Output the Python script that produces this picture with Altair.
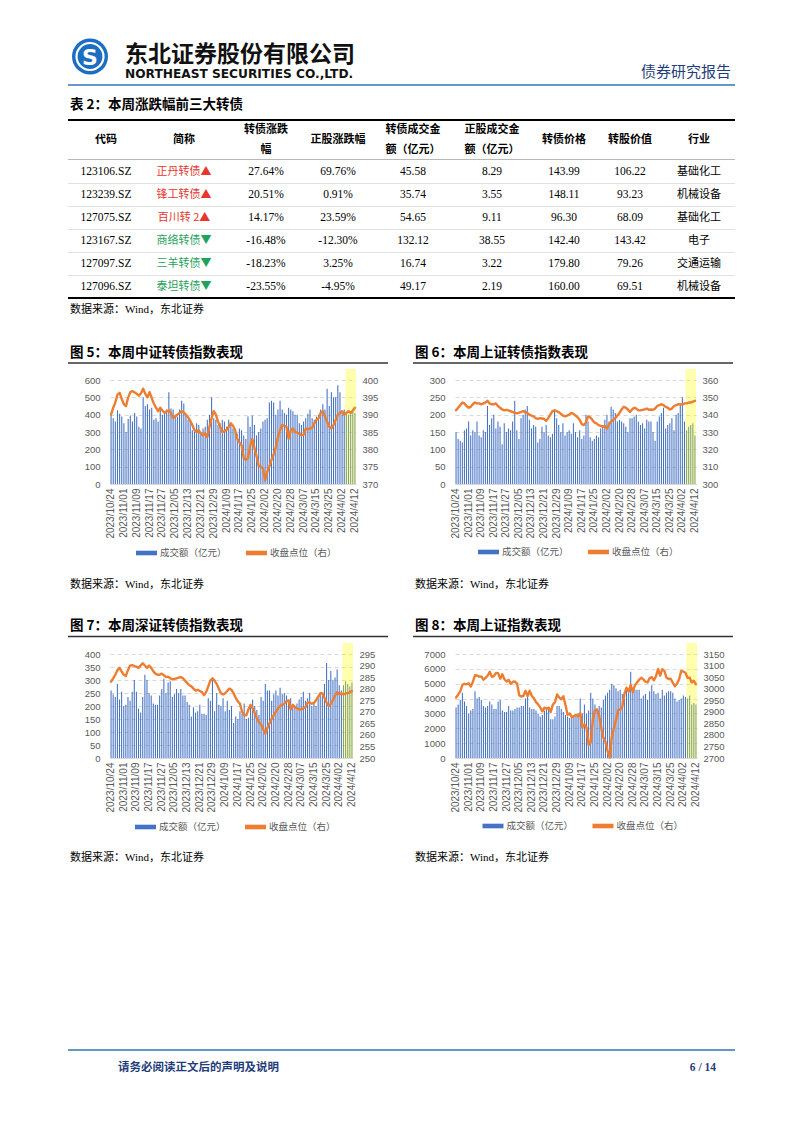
import altair as alt
import pandas as pd

# ---------------- data ----------------
HOLIDAYS = ["2024-01-01", "2024-02-09", "2024-02-12", "2024-02-13", "2024-02-14",
            "2024-02-15", "2024-02-16", "2024-04-04", "2024-04-05"]
_days = [d for d in pd.bdate_range("2023-10-24", "2024-04-12")
         if d.strftime("%Y-%m-%d") not in HOLIDAYS]
dates = [f"{d.year}/{d.month}/{d.day:02d}" for d in _days]
tick_dates = dates[::6]
week_dates = dates[-5:]

# 图5 中证转债
zz_amt = [400, 380, 360, 425, 405, 390, 350, 300, 375, 395, 360, 410, 390, 330, 320, 500, 450, 460, 430, 440,
          370, 380, 360, 430, 400, 410, 430, 530, 435, 430, 400, 390, 430, 480, 465, 400, 370, 360, 310, 300,
          350, 340, 300, 320, 330, 370, 400, 500, 380, 370, 340, 350, 370, 360, 330, 370, 350, 320, 300, 290,
          320, 310, 280, 260, 390, 330, 395, 340, 280, 300, 320, 360, 370, 380, 470, 480, 470, 400, 430, 480,
          430, 410, 400, 440, 430, 420, 400, 400, 350, 340, 360, 380, 405, 430, 380, 370, 390, 400, 430, 460,
          430, 550, 450, 530, 500, 500, 570, 530, 420, 430, 410, 400, 415, 420, 410]
zz_close = [390.0, 392.0, 393.5, 395.8, 396.3, 394.5, 393.0, 392.5, 395.0, 396.5, 396.8, 396.4, 396.0, 395.5,
            396.2, 397.5, 396.0, 395.0, 396.5, 394.8, 393.2, 392.0, 391.0, 392.0, 391.2, 390.5, 391.0, 391.2,
            390.4, 389.0, 389.5, 390.0, 390.5, 391.0, 390.6, 390.0, 389.2, 388.2, 387.0, 385.5, 385.0, 385.5,
            384.5, 384.0, 384.6, 383.5, 386.5, 389.0, 391.0, 390.0, 388.0, 386.5, 385.0, 385.3, 385.6, 386.5,
            387.5, 386.8, 385.5, 383.0, 382.0, 381.2, 377.5, 377.0, 377.5, 381.0, 383.0, 380.5, 378.0, 375.2,
            375.0, 374.5, 371.0, 373.5, 375.0, 377.0, 378.5, 380.5, 383.5, 385.5, 387.0, 386.8, 386.5, 383.0,
            385.5, 386.0, 385.0, 384.8, 384.5, 384.0, 384.2, 386.0, 385.8, 386.0, 386.2, 387.5, 388.5, 389.0,
            390.5, 391.0, 389.5, 388.0, 386.5, 386.0, 387.0, 388.5, 390.0, 390.5, 391.0, 390.0, 390.5, 391.0,
            390.5, 391.2, 392.0]

# 图6 上证转债
shcb_amt = [150, 130, 125, 120, 155, 160, 180, 140, 155, 150, 180, 140, 135, 155, 150, 225, 170, 190, 200, 160,
            180, 165, 115, 175, 150, 160, 155, 180, 240, 155, 130, 190, 200, 215, 225, 185, 160, 170, 165, 120,
            130, 165, 150, 170, 140, 135, 145, 215, 190, 170, 150, 175, 140, 150, 155, 145, 175, 150, 135, 155,
            130, 140, 200, 180, 135, 125, 130, 140, 135, 160, 170, 185, 200, 180, 223, 215, 205, 180, 185, 180,
            175, 165, 150, 190, 190, 195, 200, 180, 170, 175, 160, 185, 180, 180, 150, 125, 180, 195, 205, 220,
            160, 170, 175, 190, 155, 200, 205, 230, 250, 180, 155, 165, 170, 175, 140]
shcb_close = [342.5, 344.0, 345.5, 347.0, 346.5, 345.0, 344.0, 344.5, 346.0, 347.0, 346.5, 346.5, 346.0, 346.5,
              347.0, 348.0, 346.5, 346.0, 346.0, 346.5, 345.0, 344.0, 343.0, 342.5, 342.8, 342.5, 342.0, 341.5,
              341.0, 340.8, 341.2, 341.5, 342.0, 341.5, 341.0, 340.0, 339.5, 339.0, 338.0, 337.5, 338.0, 337.8,
              337.5, 336.5, 338.0, 340.0, 342.0, 342.5, 342.0, 341.5, 340.5, 339.5, 339.0, 339.5, 340.0, 341.0,
              340.5, 339.5, 338.5, 337.0, 334.5, 334.0, 335.5, 339.0, 338.5, 337.0, 335.5, 335.0, 334.0, 333.5,
              333.0, 333.5, 332.0, 334.5, 336.0, 337.0, 338.0, 339.5, 341.0, 343.0, 344.5, 344.0, 343.0, 341.5,
              343.0, 344.0, 343.5, 342.5, 342.5, 342.8, 343.0, 343.5, 342.8, 343.0, 342.8, 343.5, 345.0, 345.5,
              346.0, 345.5, 344.5, 344.0, 343.0, 343.5, 345.0, 345.5, 346.0, 346.0, 345.8, 346.5, 346.5, 347.0,
              347.0, 347.5, 348.0]

# 图7 深证转债
szcb_amt = [260, 245, 235, 285, 225, 255, 200, 205, 235, 220, 255, 300, 255, 190, 175, 235, 320, 300, 250, 240,
            210, 205, 205, 240, 265, 305, 250, 290, 295, 235, 245, 265, 250, 265, 240, 240, 215, 205, 160, 195,
            175, 180, 205, 170, 170, 165, 230, 220, 300, 180, 250, 205, 200, 230, 180, 220, 185, 200, 135, 160,
            150, 180, 170, 210, 150, 155, 195, 225, 200, 185, 165, 235, 220, 285, 260, 260, 220, 245, 260, 240,
            270, 245, 250, 240, 215, 230, 205, 200, 210, 225, 235, 255, 220, 230, 250, 200, 210, 200, 230, 250,
            240, 285, 365, 300, 335, 300, 310, 340, 280, 260, 280, 295, 285, 275, 290]
szcb_close = [283.0, 284.5, 286.0, 288.0, 289.0, 287.5, 286.0, 285.5, 288.0, 290.0, 290.2, 289.8, 289.5, 289.0,
              290.0, 291.0, 290.0, 289.0, 290.0, 289.0, 287.5, 286.5, 286.0, 286.0, 286.5, 285.8, 285.0, 285.2,
              284.5, 284.0, 284.2, 284.5, 284.8, 285.0, 284.5, 283.5, 282.5, 281.5, 281.0, 280.0, 279.2, 279.5,
              279.0, 278.5, 277.2, 278.5, 281.0, 283.5, 284.5, 283.5, 282.0, 280.0, 278.0, 277.5, 278.0, 279.0,
              280.0, 279.5, 278.0, 276.0, 274.5, 273.5, 270.0, 268.5, 268.5, 271.0, 273.0, 271.5, 269.5, 267.0,
              265.5, 264.5, 262.5, 260.5, 263.0, 265.0, 267.0, 268.5, 270.0, 271.5, 272.5, 273.0, 273.5, 274.5,
              275.0, 271.0, 273.0, 272.0, 271.5, 271.0, 271.0, 271.5, 272.0, 274.0, 274.0, 273.5, 273.8, 275.0,
              276.5, 278.0, 278.0, 276.0, 274.0, 272.5, 273.5, 275.0, 277.0, 278.5, 277.5, 278.0, 277.5, 278.0,
              278.0, 278.5, 279.0]

# 图8 上证指数
sh_amt = [3400, 3600, 3900, 4400, 3800, 3500, 3000, 3200, 3300, 4500, 4000, 4100, 3900, 3500, 3400, 3500, 3800,
          3600, 3300, 3300, 3800, 3900, 3200, 3100, 3100, 3500, 3200, 3200, 3300, 3400, 3400, 3500, 3500, 4000,
          4100, 3400, 3300, 3300, 3200, 3000, 2800, 2900, 3200, 3300, 3400, 2600, 2600, 2800, 3500, 3500, 3300,
          3100, 2900, 2800, 2700, 2800, 2900, 2900, 3000, 4000, 3000, 3600, 3000, 3200, 4400, 4000, 3600, 3300,
          3500, 3400, 3900, 4200, 4400, 4600, 5000, 4900, 4700, 4500, 4600, 4300, 4200, 4800, 4500, 5800, 4500,
          4600, 4600, 4600, 4000, 4200, 4300, 3900, 4500, 4900, 4500, 4300, 4400, 4000, 4600, 4200, 4400, 4500,
          4500, 4400, 4000, 3800, 3900, 4000, 4200, 4100, 4000, 4200, 3600, 3700, 3600]
sh_close = [2962, 2974, 2988, 3017, 3021, 3019, 3023, 3009, 3030, 3058, 3057, 3052, 3053, 3039, 3046, 3056, 3073,
            3051, 3054, 3068, 3067, 3043, 3062, 3041, 3031, 3038, 3021, 3030, 3031, 3022, 2972, 2966, 2969, 2991,
            2968, 2991, 2968, 2958, 2942, 2932, 2919, 2902, 2918, 2914, 2918, 2899, 2931, 2941, 2975, 2962, 2954,
            2967, 2929, 2887, 2893, 2877, 2881, 2886, 2881, 2894, 2833, 2845, 2832, 2756, 2770, 2866, 2906, 2910,
            2883, 2830, 2788, 2770, 2730, 2702, 2789, 2829, 2865, 2906, 2910, 2922, 2977, 3004, 2987, 3016, 2985,
            3015, 3027, 3039, 3047, 3040, 3030, 3027, 3046, 3050, 3036, 3054, 3085, 3056, 3084, 3077, 3048, 3042,
            3043, 3026, 3011, 3021, 3041, 3077, 3074, 3069, 3047, 3048, 3027, 3034, 3019]

# 表2
codes = ["123106.SZ", "123239.SZ", "127075.SZ", "123167.SZ", "127097.SZ", "127096.SZ"]
names = ["正丹转债", "锋工转债", "百川转 2", "商络转债", "三羊转债", "泰坦转债"]
direction = ["up", "up", "up", "down", "down", "down"]
cb_chg = [27.64, 20.51, 14.17, -16.48, -18.23, -23.55]
stk_chg = [69.76, 0.91, 23.59, -12.30, 3.25, -4.95]
cb_turnover = [45.58, 35.74, 54.65, 132.12, 16.74, 49.17]
stk_turnover = [8.29, 3.55, 9.11, 38.55, 3.22, 2.19]
cb_price = [143.99, 148.11, 96.30, 142.40, 179.80, 160.00]
conv_value = [106.22, 93.23, 68.09, 143.42, 79.26, 69.51]
industry = ["基础化工", "机械设备", "基础化工", "电子", "交通运输", "机械设备"]
table_headers = ["代码", "简称", "转债涨跌\n幅", "正股涨跌幅", "转债成交金\n额（亿元）",
                 "正股成交金\n额（亿元）", "转债价格", "转股价值", "行业"]

LEG_A = "成交额（亿元）"
LEG_B = "收盘点位（右）"
SOURCE = "数据来源：Wind，东北证券"

# ---------------- style ----------------
BLUE = "#4472C4"
ORANGE = "#ED7D31"
GRAY = "#595959"
NAVY = "#1F3D7A"
CJK = "Noto Sans CJK SC"
SANS = "Liberation Sans, Noto Sans CJK SC"
SERIF = "Liberation Serif, Noto Sans CJK SC"
SYMBOL = "M-1,-0.22H1V0.22H-1Z"
PAD_IN = 0.5
MINUS = "\u2212"

OX, OY = 110, 380  # page position of the first plot's origin


def vx(px):
    return alt.value(px - OX)


def vy(py):
    return alt.value(py - OY)


one = pd.DataFrame({"k": [0]})


def txt(s, px, py, size, color="#000000", weight="normal", font=CJK, align="left",
        baseline="middle"):
    return alt.Chart(one).mark_text(
        text=s, fontSize=size, color=color, fontWeight=weight, font=font,
        align=align, baseline=baseline
    ).encode(x=vx(px), y=vy(py))


def hrule(x1, x2, py, color, w):
    return alt.Chart(one).mark_rule(color=color, strokeWidth=w).encode(
        x=vx(x1), x2=vx(x2), y=vy(py))


def make_plot(amt, close, amt_dom, amt_ticks, cl_dom, cl_ticks, h, lx, ly):
    df = pd.DataFrame({"date": dates, "amt": amt, "close": close,
                       "s_amt": LEG_A, "s_close": LEG_B})
    xscale = alt.Scale(domain=dates, paddingInner=PAD_IN, paddingOuter=PAD_IN / 2)
    xaxis = alt.Axis(values=tick_dates, labelAngle=-90, labelFontSize=10, labelColor=GRAY,
                     labelFont=SANS, ticks=False, domainColor="#D9D9D9", labelPadding=4,
                     grid=False, title=None, labelOverlap=False)
    X = alt.X("date:N", scale=xscale, axis=xaxis)
    cscale = alt.Scale(domain=[LEG_A, LEG_B], range=[BLUE, ORANGE])
    leg = alt.Legend(orient="none", legendX=lx, legendY=ly, direction="horizontal", title=None,
                     symbolType=SYMBOL, symbolSize=441, symbolStrokeWidth=0, symbolOpacity=1,
                     labelFontSize=9.5, labelColor=GRAY, labelFont=CJK, labelOffset=3,
                     columnPadding=19, padding=0)
    bars = alt.Chart(df).mark_bar().encode(
        x=X,
        y=alt.Y("amt:Q", scale=alt.Scale(domain=amt_dom, nice=False),
                axis=alt.Axis(orient="left", values=amt_ticks, format="d", grid=True,
                              gridDash=[4, 3], gridColor="#D9D9D9", domain=False, ticks=False,
                              labelColor=GRAY, labelFontSize=9.5, labelFont=SANS,
                              labelPadding=10, title=None)),
        color=alt.Color("s_amt:N", scale=cscale, legend=leg),
    )
    band = alt.Chart(pd.DataFrame({"date": week_dates})).mark_bar(
        color="#FFFF00", opacity=0.33, width=alt.RelativeBandSize(1 / (1 - PAD_IN))
    ).encode(x=X, y=alt.value(-11), y2=alt.value(h))
    line = alt.Chart(df).mark_line(strokeWidth=2.4, strokeJoin="round", strokeCap="round").encode(
        x=X,
        y=alt.Y("close:Q", scale=alt.Scale(domain=cl_dom, zero=False, nice=False),
                axis=alt.Axis(orient="right", values=cl_ticks, format="d", grid=False,
                              domain=False, ticks=False, labelColor=GRAY, labelFontSize=9.5,
                              labelFont=SANS, labelPadding=6, title=None)),
        color=alt.Color("s_close:N", scale=cscale, legend=leg),
    )
    return alt.layer(bars, band, line).resolve_scale(y="independent")


H = 104
plot5 = make_plot(zz_amt, zz_close, [0, 600], list(range(0, 601, 100)), [370, 400],
                  list(range(370, 401, 5)), H, 26, 162.5)
plot6 = make_plot(shcb_amt, shcb_close, [0, 300], list(range(0, 301, 50)), [300, 360],
                  list(range(300, 361, 10)), H, 23, 161.5)
plot7 = make_plot(szcb_amt, szcb_close, [0, 400], list(range(0, 401, 50)), [250, 295],
                  list(range(250, 296, 5)), H, 25, 162.5)
plot8 = make_plot(sh_amt, sh_close, [0, 7000], list(range(0, 7001, 1000)), [2700, 3150],
                  list(range(2700, 3151, 50)), H, 27.5, 161.5)

# ---------------- page furniture (header, table, titles, notes, footer) ----------------
furn = []
furn.append(alt.Chart(one).mark_rect(color="white").encode(
    x=vx(8), x2=vx(9), y=vy(8), y2=vy(9)))
# logo
furn.append(alt.Chart(one).mark_point(shape="circle", filled=True, size=36 * 36, color="#1B6EC2",
                                      opacity=1).encode(x=vx(90), y=vy(56.5)))
furn.append(alt.Chart(one).mark_point(shape="circle", filled=False, size=27 * 27, color="white",
                                      strokeWidth=2.2, opacity=1).encode(x=vx(90), y=vy(56.5)))
furn.append(txt("S", 90, 57.5, 22, color="white", weight="bold", font="DejaVu Sans",
                align="center"))
furn.append(txt("东北证券股份有限公司", 125, 61.5, 23, color="#111111", weight="bold",
                baseline="alphabetic"))
furn.append(txt("NORTHEAST SECURITIES CO.,LTD.", 125, 73.5, 12.2, color="#111111", weight="bold",
                font="DejaVu Sans"))
furn.append(txt("债券研究报告", 731, 72, 15, color=NAVY, align="right"))
furn.append(hrule(68, 735, 85, "#2E75B6", 1.5))

# table
furn.append(txt("表 2：本周涨跌幅前三大转债", 70, 105, 13.5, weight="bold"))
furn.append(hrule(68, 735, 120, "#000000", 2))
furn.append(hrule(68, 735, 159.5, "#A6A6A6", 0.8))
for sep in [183.5, 206.5, 229.5, 252.5, 275.5]:
    furn.append(hrule(68, 735, sep, "#D9D9D9", 0.8))
furn.append(hrule(68, 735, 298, "#000000", 2))
furn.append(txt(SOURCE, 70, 310, 11, font=SERIF))

tdf = pd.DataFrame({"r": list(range(6)), "code": codes, "name": names, "dir": direction,
                    "cb_chg": cb_chg, "stk_chg": stk_chg, "cb_turnover": cb_turnover,
                    "stk_turnover": stk_turnover, "cb_price": cb_price,
                    "conv_value": conv_value, "industry": industry})
yrow = alt.Y("r:Q", scale=alt.Scale(domain=[0, 5], range=[172 - OY, 287 - OY]), axis=None)
col_centers = [106, 184, 266, 338, 413, 492, 564, 630, 699]
col_fields = ["code", "name", "cb_chg", "stk_chg", "cb_turnover", "stk_turnover", "cb_price",
              "conv_value", "industry"]
col_kind = ["str", "name", "pct", "pct", "num", "num", "num", "num", "cjk"]
for hdr, cx, fld, kind in zip(table_headers, col_centers, col_fields, col_kind):
    hy = 130 if "\n" in hdr else 140
    furn.append(alt.Chart(one).mark_text(
        text=hdr, fontSize=11, fontWeight="bold", font=CJK, align="center", baseline="middle",
        lineBreak="\n", lineHeight=20, color="#000000").encode(x=vx(cx), y=vy(hy)))
    if kind == "name":
        for d, col in [("up", "#E8352E"), ("down", "#1FA35C")]:
            furn.append(alt.Chart(tdf).transform_filter(f"datum.dir == '{d}'").transform_calculate(
                t="datum.name + (datum.dir == 'up' ? '▲' : '▼')"
            ).mark_text(fontSize=11, font=CJK, align="center", color=col).encode(
                x=vx(cx), y=yrow, text="t:N"))
    else:
        if kind == "pct":
            expr = f"replace(format(datum.{fld}, '.2f'), '{MINUS}', '-') + '%'"
        elif kind == "num":
            expr = f"format(datum.{fld}, '.2f')"
        else:
            expr = f"datum.{fld}"
        furn.append(alt.Chart(tdf).transform_calculate(t=expr).mark_text(
            fontSize=11.5 if kind != "cjk" else 11, font=SERIF if kind != "cjk" else CJK,
            align="center", color="#000000").encode(x=vx(cx), y=yrow, text="t:N"))

# chart titles, notes
titles = ["图 5：本周中证转债指数表现", "图 6：本周上证转债指数表现",
          "图 7：本周深证转债指数表现", "图 8：本周上证指数表现"]
for (t, px, py) in zip(titles, [70, 415, 70, 415], [353, 353, 626, 626]):
    furn.append(txt(t, px, py, 13.5, weight="bold"))
for py in [363, 636.5]:
    furn.append(hrule(68, 388, py, "#333333", 1.3))
    furn.append(hrule(413, 733, py, "#333333", 1.3))
for py in [585, 858]:
    furn.append(txt(SOURCE, 70, py, 11, font=SERIF))
    furn.append(txt(SOURCE, 415, py, 11, font=SERIF))

# footer
furn.append(hrule(68, 735, 1050, "#2E75B6", 1.5))
furn.append(txt("请务必阅读正文后的声明及说明", 118, 1068, 11.5, color=NAVY, weight="bold"))
furn.append(txt("6 / 14", 716, 1068, 11.5, color=NAVY, weight="bold", font=SERIF, align="right"))

p5 = alt.layer(plot5, *furn).resolve_scale(x="independent", y="independent").properties(
    width=246, height=H)
p6 = plot6.properties(width=241, height=H)
p7 = plot7.properties(width=243, height=H)
p8 = plot8.properties(width=242, height=H)

chart = alt.concat(p5, p6, p7, p8, columns=2, spacing={"row": 170, "column": 99},
                   bounds="flush").resolve_scale(color="independent").resolve_legend(
    color="independent").properties(padding=0, background="white").configure_view(
    strokeWidth=0)

chart.save("out.html", embed_options={"renderer": "svg", "actions": False})
